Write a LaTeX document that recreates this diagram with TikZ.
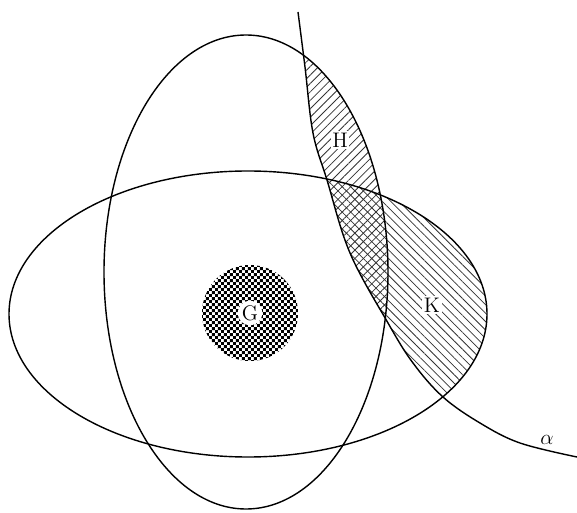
\documentclass[tikz,border=0pt]{standalone}
\usetikzlibrary{patterns,patterns.meta}
\pgfdeclarepatternformonly{finechecker}{\pgfpointorigin}{\pgfqpoint{3.4pt}{3.4pt}}{\pgfqpoint{3.4pt}{3.4pt}}{%
    \pgfpathrectangle{\pgfpointorigin}{\pgfqpoint{1.7pt}{1.7pt}}%
    \pgfpathrectangle{\pgfqpoint{1.7pt}{1.7pt}}{\pgfqpoint{1.7pt}{1.7pt}}%
    \pgfusepath{fill}}
\begin{document}
\begin{tikzpicture}[
    orbit/.style={line width=0.8pt},
    hatchH/.style={pattern={Lines[angle=45,distance=3.4pt,line width=0.45pt]}, pattern color=black!80},
    hatchK/.style={pattern={Lines[angle=-45,distance=3.4pt,line width=0.45pt]}, pattern color=black!80}]
    \useasboundingbox (0,0) rectangle (11.54,10.24);

    % parts of the two orbits beyond alpha
    \begin{scope}
        \clip plot[smooth, tension=0.6] coordinates {(5.96,10.0) (6.10,8.90) (6.26,7.58) (6.54,6.64) (7.0,5.18) (7.76,3.78) (8.26,2.98) (8.86,2.30) (9.6,1.78) (10.4,1.38) (11.54,1.10)}
            -- (11.6,1.1) -- (11.6,10.3) -- (5.9,10.3) -- cycle;
        \fill[hatchH] (4.92,4.80) ellipse (2.84 and 4.74);
        \fill[hatchK] (4.96,3.96) ellipse (4.78 and 2.86);
    \end{scope}

    \draw[orbit] (4.92,4.80) ellipse (2.84 and 4.74);
    \draw[orbit] (4.96,3.96) ellipse (4.78 and 2.86);
    \draw[orbit] plot[smooth, tension=0.6] coordinates {(5.96,10.0) (6.10,8.90) (6.26,7.58) (6.54,6.64) (7.0,5.18) (7.76,3.78) (8.26,2.98) (8.86,2.30) (9.6,1.78) (10.4,1.38) (11.54,1.10)};

    \fill[pattern=finechecker] (5.0,3.98) circle (0.96);
    \node[fill=white, circle, inner sep=0.5pt, font=\large] (G) at (5.0,3.98) {G};

    \node[fill=white, inner sep=1pt, font=\large] (H) at (6.8,7.44) {H};
    \node[fill=white, inner sep=1pt, font=\large] (K) at (8.64,4.14) {K};
    \node[font=\large] (alpha) at (10.94,1.44) {$\alpha$};
\end{tikzpicture}
\end{document}
